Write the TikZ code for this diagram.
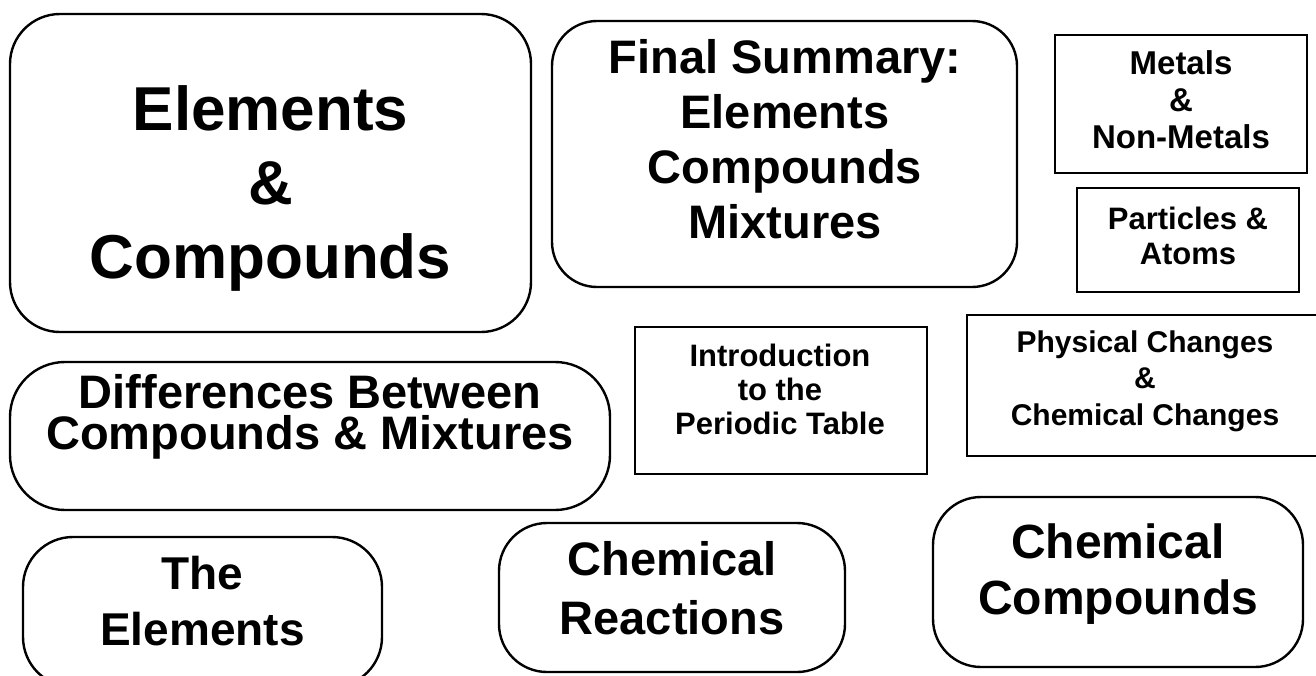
\documentclass[tikz,border=0pt]{standalone}
\usepackage{fontspec}
\setmainfont{Liberation Sans}

\tikzset{
  topic/.style={draw, line width=2.4pt, rounded corners=#1, inner sep=0pt},
  topic/.default=48pt,
  sqtopic/.style={draw, line width=2.4pt, inner sep=0pt},
  caption/.style 2 args={align=center, inner sep=0pt, font=\fontsize{#1}{#2}\selectfont\bfseries},
}

\begin{document}
\begin{tikzpicture}[x=1pt,y=-1pt]
\useasboundingbox (0,0) rectangle (1316,675);

% top row
\draw (270.5,173) node (elcomp) [topic=50pt, minimum width=521pt, minimum height=318pt] {};
\draw (270.5,188) node (elcompT) [caption={62}{74}] {Elements\\\&\\Compounds};

\draw (784.5,154) node (summary) [topic=45pt, minimum width=465pt, minimum height=266pt] {};
\draw (785,139) node (summaryT) [caption={47}{55}] {Final Summary:\\Elements\\Compounds\\Mixtures};

\draw (1181,104) node (metals) [sqtopic, minimum width=252pt, minimum height=138pt] {};
\draw (1181,100) node (metalsT) [caption={33}{37}] {Metals\\\&\\Non-Metals};

\draw (1188,240) node (particles) [sqtopic, minimum width=222pt, minimum height=104pt] {};
\draw (1188,236) node (particlesT) [caption={31}{35}] {Particles \&\\Atoms};

% middle row
\draw (310,436) node (diffs) [topic=55pt, minimum width=600pt, minimum height=148pt] {};
\draw (310,417) node (diffsT) [caption={47}{41}] {Differences Between\\Compounds \& Mixtures};

\draw (781,400.5) node (periodic) [sqtopic, minimum width=292pt, minimum height=147pt] {};
\draw (780,389) node (periodicT) [caption={31}{34}] {Introduction\\to the\\Periodic Table};

\draw (1145,385.5) node (changes) [sqtopic, minimum width=356pt, minimum height=141pt] {};
\draw (1145,381) node (changesT) [caption={30}{36.5}] {Physical Changes\\\&\\Chemical Changes};

% bottom row
\draw (202.5,612) node (elems) [topic=50pt, minimum width=359pt, minimum height=150pt] {};
\draw (202.5,601) node (elemsT) [caption={46}{56}] {The\\Elements};

\draw (672,597.5) node (reactions) [topic=48pt, minimum width=346pt, minimum height=149pt] {};
\draw (672,588) node (reactionsT) [caption={47}{59}] {Chemical\\Reactions};

\draw (1118,582) node (compounds) [topic=48pt, minimum width=370pt, minimum height=170pt] {};
\draw (1118,574) node (compoundsT) [caption={48}{56}] {Chemical\\Compounds};
\end{tikzpicture}
\end{document}
